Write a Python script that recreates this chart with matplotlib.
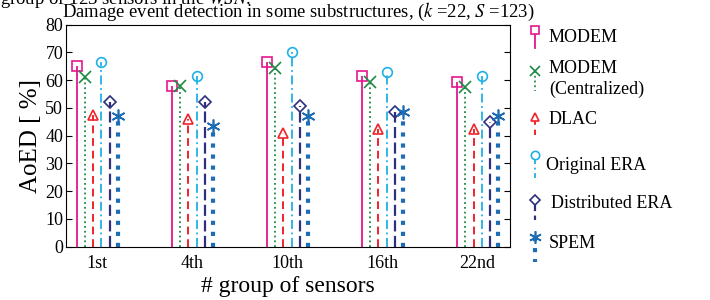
import numpy as np
import matplotlib
matplotlib.use("Agg")
import matplotlib.pyplot as plt

plt.rcParams['font.family'] = ['Liberation Serif', 'DejaVu Serif']
plt.rcParams['mathtext.fontset'] = 'stix'

groups = ["1st", "4th", "10th", "16th", "22nd"]
methods = ["MODEM", "MODEM\n(Centralized)", "DLAC", "Original ERA", "Distributed ERA", "SPEM"]
modem = [65, 58, 66.5, 61.5, 59.5]
modem_c = [61, 58, 64.5, 59.5, 57.5]
dlac = [47.5, 46, 41, 42.5, 42.5]
orig_era = [66.5, 61.5, 70, 63, 61.5]
dist_era = [52, 52, 50.5, 48.5, 45]
spem = [47, 43.5, 47, 48.5, 47]
values = [modem, modem_c, dlac, orig_era, dist_era, spem]

colors = ['#e5168c', '#1d8a43', '#f0232b', '#1fb1e6', '#2e2f7f', '#1c6db3']
markers = ['s', 'x', '^', 'o', 'D', (6, 2, 0)]
styles = ['-', ':', (0, (4, 2.5)), (0, (5, 2, 1, 2)), (0, (5, 2)), ':']
widths = [1.3, 1.3, 1.4, 1.3, 1.6, 3.0]
msizes = [7, 8, 7, 7, 6, 10]

fig = plt.figure(figsize=(7.1, 3.0), dpi=100)
ax = fig.add_axes([66/710, 53.5/300, 444/710, 221.8/300])

x = np.arange(1, len(groups) + 1)
step = 0.0865
for i in range(len(methods)):
    xs = x + (i - 2.5) * step
    ax.vlines(xs, 0, values[i], colors=colors[i], linestyles=styles[i], linewidth=widths[i])
    ax.plot(xs, values[i], linestyle='none', marker=markers[i], color=colors[i],
            markerfacecolor='none', markersize=msizes[i], markeredgewidth=1.2)

ax.set_xlim(0.67, 5.34)
ax.set_ylim(0, 80)
ax.set_xticks(x)
ax.set_xticklabels(groups, fontsize=13)
ax.set_yticks(np.arange(0, 81, 10))
ax.tick_params(axis='y', direction='in', right=True, labelsize=13, length=4, pad=2)
ax.tick_params(axis='x', length=0, pad=6)
ax.set_ylabel("AoED [ %]", fontsize=18, labelpad=2)
ax.set_xlabel("# group of sensors", fontsize=17, labelpad=3)

fig.text(0.0, 0.988, "group of 123 sensors in the $WSN$.", fontsize=13.5, va='baseline')
fig.text(62/710, 0.942, "Damage event detection in some substructures, ($k$ =22, $S$ =123)",
         fontsize=13.4, va='baseline')

# legend drawn by hand: little stems with the marker on top
leg = fig.add_axes([0, 0, 1, 1])
leg.set_xlim(0, 710)
leg.set_ylim(300, 0)
leg.axis('off')
mark_y = [30, 71, 117, 155, 200, 237]
stem_y = [48, 91, 135, 178, 220, 262]
text_y = [38, 79, 120, 165, 204, 244]
text_x = [549, 549, 549, 546, 551, 549]
for i in range(len(methods)):
    leg.plot([535, 535], [mark_y[i], stem_y[i]], color=colors[i], linestyle=styles[i], linewidth=widths[i])
    leg.plot([535], [mark_y[i]], marker=markers[i], color=colors[i], markerfacecolor='white',
             markersize=msizes[i] - 1, markeredgewidth=1.2)
    leg.text(text_x[i], text_y[i], methods[i], fontsize=13, va='center', linespacing=1.3)

fig.savefig("out.png", dpi=100)
